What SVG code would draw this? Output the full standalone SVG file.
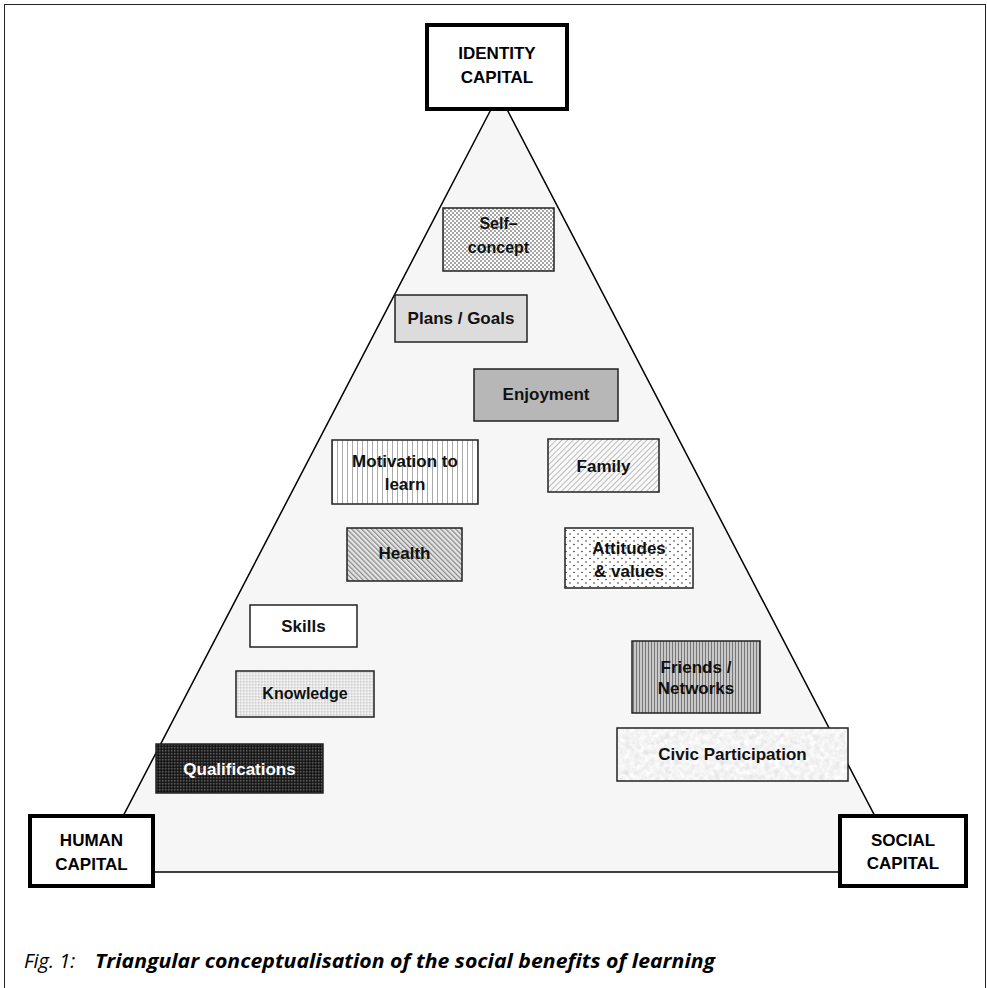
<svg xmlns="http://www.w3.org/2000/svg" width="987" height="988" viewBox="0 0 987 988">
<style>
.lbl{font-family:"Liberation Sans",Arial,sans-serif;font-weight:bold;font-size:17px;text-anchor:middle;fill:#111}
.cap{font-family:"Liberation Sans",Arial,sans-serif;font-weight:bold;font-size:17px;text-anchor:middle;fill:#000}
.box{stroke:#222;stroke-width:1.5}
.big{fill:#fff;stroke:#000;stroke-width:4}
.caption{font-family:"Liberation Sans Narrow","Open Sans","Liberation Sans",sans-serif;font-style:italic;font-size:20px;fill:#000}
</style>
<defs>
<pattern id="pDots" width="4" height="4" patternUnits="userSpaceOnUse"><rect width="4" height="4" fill="#fff"/><circle cx="1" cy="1" r="0.75" fill="#222"/><circle cx="3" cy="3" r="0.75" fill="#222"/></pattern>
<pattern id="pVert" width="5" height="5" patternUnits="userSpaceOnUse"><rect width="5" height="5" fill="#fff"/><rect x="2" width="1" height="5" fill="#aaa"/></pattern>
<pattern id="pFam" width="4" height="4" patternUnits="userSpaceOnUse" patternTransform="rotate(45)"><rect width="4" height="4" fill="#fafafa"/><rect width="0.8" height="4" fill="#aaa"/></pattern>
<pattern id="pHealth" width="3.5" height="3.5" patternUnits="userSpaceOnUse" patternTransform="rotate(-45)"><rect width="3.5" height="3.5" fill="#e4e4e4"/><rect width="1.2" height="3.5" fill="#888"/></pattern>
<pattern id="pAtt" width="8" height="7" patternUnits="userSpaceOnUse"><rect width="8" height="7" fill="#fff"/><circle cx="2" cy="2" r="0.8" fill="#333"/><circle cx="6" cy="5.5" r="0.8" fill="#333"/></pattern>
<pattern id="pKnow" width="3" height="3" patternUnits="userSpaceOnUse"><rect width="3" height="3" fill="#e6e6e6"/><rect width="1.5" height="1.5" fill="#cfcfcf"/><rect x="1.5" y="1.5" width="1.5" height="1.5" fill="#f6f6f6"/></pattern>
<pattern id="pQual" width="3" height="3" patternUnits="userSpaceOnUse"><rect width="3" height="3" fill="#222"/><rect width="1.5" height="1.5" fill="#555"/><rect x="1.5" y="1.5" width="1.5" height="1.5" fill="#111"/></pattern>
<pattern id="pFriends" width="3" height="3" patternUnits="userSpaceOnUse"><rect width="3" height="3" fill="#c8c8c8"/><rect width="1" height="3" fill="#777"/></pattern>
<filter id="grain" x="0" y="0" width="100%" height="100%">
<feTurbulence type="fractalNoise" baseFrequency="0.2" numOctaves="3" seed="7" result="t"/>
<feColorMatrix in="t" type="matrix" values="0.2 0.2 0.2 0 0.6  0.2 0.2 0.2 0 0.6  0.2 0.2 0.2 0 0.6  0 0 0 0 1"/>
<feComposite in2="SourceGraphic" operator="in"/>
</filter>
</defs>
<rect width="987" height="988" fill="#fff"/>
<rect x="4.5" y="4.5" width="981" height="1000" fill="none" stroke="#222" stroke-width="1"/>

<g id="connectors">
<polygon points="499,94 94,872 904,872" fill="#f6f6f6" stroke="#000" stroke-width="1.5"/>
</g>

<g id="identity">
<rect class="big" x="427" y="25" width="140" height="84"/>
<text class="cap" x="497" y="59">IDENTITY</text>
<text class="cap" x="497" y="83">CAPITAL</text>
</g>
<g id="human">
<rect class="big" x="30" y="816" width="123" height="70"/>
<text class="cap" x="91.5" y="846">HUMAN</text>
<text class="cap" x="91.5" y="870">CAPITAL</text>
</g>
<g id="social">
<rect class="big" x="840" y="816" width="126" height="70"/>
<text class="cap" x="903" y="846">SOCIAL</text>
<text class="cap" x="903" y="869">CAPITAL</text>
</g>

<g id="self-concept">
<rect class="box" x="443" y="208" width="111" height="63" fill="url(#pDots)"/>
<text class="lbl" x="498.5" y="229" style="font-size:16px">Self–</text>
<text class="lbl" x="498.5" y="253" style="font-size:16px">concept</text>
</g>
<g id="plans">
<rect class="box" x="395" y="295" width="132" height="47" fill="#dcdcdc"/>
<text class="lbl" x="461" y="324">Plans / Goals</text>
</g>
<g id="enjoyment">
<rect class="box" x="474" y="369" width="144" height="52" fill="#b7b7b7"/>
<text class="lbl" x="546" y="400">Enjoyment</text>
</g>
<g id="motivation">
<rect class="box" x="332" y="440" width="146" height="64" fill="url(#pVert)"/>
<text class="lbl" x="405" y="467">Motivation to</text>
<text class="lbl" x="405" y="490">learn</text>
</g>
<g id="family">
<rect class="box" x="548" y="439" width="111" height="53" fill="url(#pFam)"/>
<text class="lbl" x="603.5" y="472">Family</text>
</g>
<g id="health">
<rect class="box" x="347" y="528" width="115" height="53" fill="url(#pHealth)"/>
<text class="lbl" x="404.5" y="559">Health</text>
</g>
<g id="attitudes">
<rect class="box" x="565" y="528" width="128" height="60" fill="url(#pAtt)"/>
<text class="lbl" x="629" y="554">Attitudes</text>
<text class="lbl" x="629" y="577">&amp; values</text>
</g>
<g id="skills">
<rect class="box" x="250" y="605" width="107" height="42" fill="#fff"/>
<text class="lbl" x="303.5" y="632">Skills</text>
</g>
<g id="knowledge">
<rect class="box" x="236" y="671" width="138" height="46" fill="url(#pKnow)"/>
<text class="lbl" x="305" y="699" style="font-size:16px">Knowledge</text>
</g>
<g id="qualifications">
<rect class="box" x="156" y="744" width="167" height="49" fill="url(#pQual)"/>
<text class="lbl" x="239.5" y="775" style="fill:#fff">Qualifications</text>
</g>
<g id="friends">
<rect class="box" x="632" y="641" width="128" height="72" fill="url(#pFriends)"/>
<text class="lbl" x="696" y="673">Friends /</text>
<text class="lbl" x="696" y="694">Networks</text>
</g>
<g id="civic">
<rect x="617" y="728" width="231" height="53" fill="#000" filter="url(#grain)"/>
<rect class="box" x="617" y="728" width="231" height="53" fill="none"/>
<text class="lbl" x="732.5" y="760">Civic Participation</text>
</g>

<g id="caption">
<text class="caption" x="24" y="968">Fig. 1:</text>
<text class="caption" x="95" y="968" font-weight="bold" textLength="620" lengthAdjust="spacingAndGlyphs">Triangular conceptualisation of the social benefits of learning</text>
</g>
</svg>
